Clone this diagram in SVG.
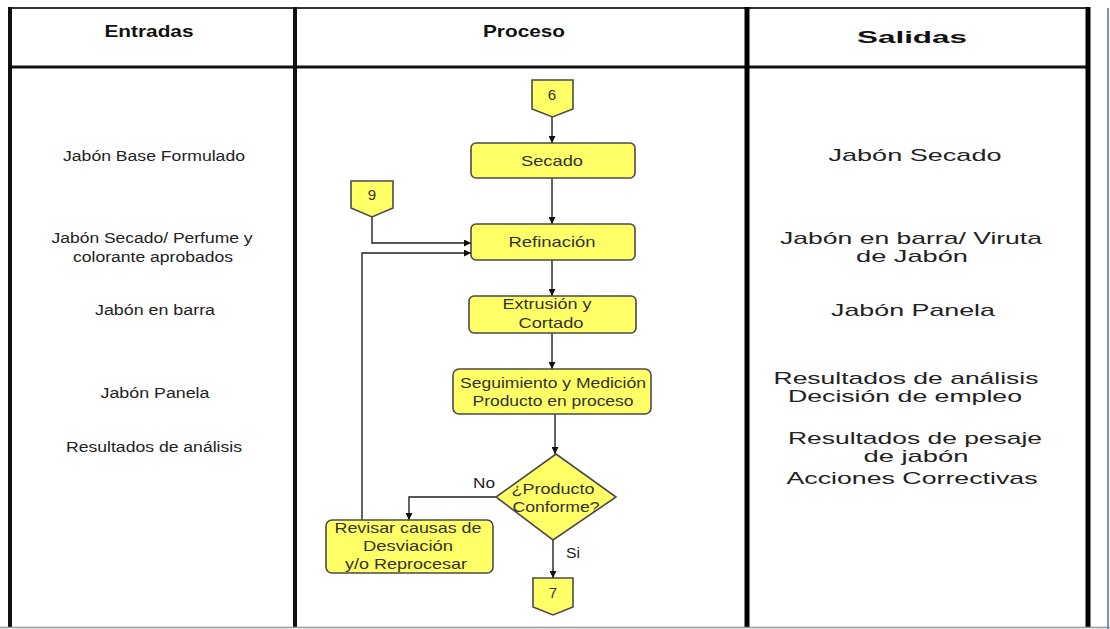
<svg xmlns="http://www.w3.org/2000/svg" width="1110" height="629" viewBox="0 0 1110 629">
<style>
text{font-family:"Liberation Sans",Arial,sans-serif;fill:#222;}
.hd{font-weight:bold;font-size:17px;text-anchor:middle;fill:#111;}
.lt{font-size:14px;text-anchor:middle;}
.rt{font-size:17px;text-anchor:middle;}
.ft{font-size:15px;text-anchor:middle;fill:#333;}
.box{fill:#ffff66;stroke:#4a4a4a;stroke-width:1.6;}
.ln{fill:none;stroke:#222;stroke-width:1.4;}
</style>
<defs>
<marker id="ah" viewBox="0 0 10 10" refX="10" refY="5" markerWidth="7" markerHeight="7" orient="auto" markerUnits="userSpaceOnUse">
<path d="M0,0 L10,5 L0,10 z" fill="#111"/>
</marker>
</defs>
<rect width="1110" height="629" fill="#fff"/>
<g id="table">
<line x1="8" y1="8" x2="1090" y2="8" stroke="#333" stroke-width="2"/>
<line x1="10" y1="67" x2="1090" y2="67" stroke="#111" stroke-width="3"/>
<line x1="10" y1="7" x2="10" y2="627" stroke="#111" stroke-width="4"/>
<line x1="295" y1="7" x2="295" y2="627" stroke="#111" stroke-width="4"/>
<line x1="747" y1="7" x2="747" y2="627" stroke="#000" stroke-width="5"/>
<line x1="1088" y1="7" x2="1088" y2="627" stroke="#000" stroke-width="5"/>
<line x1="0" y1="627.5" x2="1110" y2="627.5" stroke="#999" stroke-width="1.5"/>
<line x1="1108" y1="8" x2="1108" y2="629" stroke="#8090a8" stroke-width="2"/>
<text class="hd" x="149" y="37" textLength="89" lengthAdjust="spacingAndGlyphs">Entradas</text>
<text class="hd" x="524" y="37" textLength="82" lengthAdjust="spacingAndGlyphs">Proceso</text>
<text class="hd" x="912" y="43" font-size="21" textLength="110" lengthAdjust="spacingAndGlyphs">Salidas</text>
</g>
<g id="entradas">
<text class="lt" x="154" y="161" textLength="182" lengthAdjust="spacingAndGlyphs">Jabón Base Formulado</text>
<text class="lt" x="152" y="243" textLength="201" lengthAdjust="spacingAndGlyphs">Jabón Secado/ Perfume y</text>
<text class="lt" x="153" y="262" textLength="160" lengthAdjust="spacingAndGlyphs">colorante aprobados</text>
<text class="lt" x="155" y="315" textLength="120" lengthAdjust="spacingAndGlyphs">Jabón en barra</text>
<text class="lt" x="155" y="398" textLength="109" lengthAdjust="spacingAndGlyphs">Jabón Panela</text>
<text class="lt" x="154" y="452" textLength="176" lengthAdjust="spacingAndGlyphs">Resultados de análisis</text>
</g>
<g id="salidas">
<text class="rt" x="915" y="161" textLength="173" lengthAdjust="spacingAndGlyphs">Jabón Secado</text>
<text class="rt" x="911" y="244" textLength="262" lengthAdjust="spacingAndGlyphs">Jabón en barra/ Viruta</text>
<text class="rt" x="912" y="262" textLength="112" lengthAdjust="spacingAndGlyphs">de Jabón</text>
<text class="rt" x="913" y="316" textLength="164" lengthAdjust="spacingAndGlyphs">Jabón Panela</text>
<text class="rt" x="906" y="384" textLength="265" lengthAdjust="spacingAndGlyphs">Resultados de análisis</text>
<text class="rt" x="905" y="402" textLength="234" lengthAdjust="spacingAndGlyphs">Decisión de empleo</text>
<text class="rt" x="915" y="444" textLength="254" lengthAdjust="spacingAndGlyphs">Resultados de pesaje</text>
<text class="rt" x="916" y="462" textLength="105" lengthAdjust="spacingAndGlyphs">de jabón</text>
<text class="rt" x="912" y="484" textLength="251" lengthAdjust="spacingAndGlyphs">Acciones Correctivas</text>
</g>
<g id="connectors">
<path class="ln" d="M552,117 L552,143" marker-end="url(#ah)"/>
<path class="ln" d="M552,178 L552,224" marker-end="url(#ah)"/>
<path class="ln" d="M372,217 L372,243 L471,243" marker-end="url(#ah)"/>
<path class="ln" d="M362,520 L362,253 L471,253" marker-end="url(#ah)"/>
<path class="ln" d="M552,260 L552,296" marker-end="url(#ah)"/>
<path class="ln" d="M552,333 L552,369" marker-end="url(#ah)"/>
<path class="ln" d="M555,414 L555,454" marker-end="url(#ah)"/>
<path class="ln" d="M496,497 L409,497 L409,520" marker-end="url(#ah)"/>
<path class="ln" d="M553,540 L553,578" marker-end="url(#ah)"/>
<text x="484" y="488" font-size="15" text-anchor="middle" fill="#334" textLength="22" lengthAdjust="spacingAndGlyphs">No</text>
<text x="573" y="558" font-size="15" text-anchor="middle" fill="#334" textLength="14" lengthAdjust="spacingAndGlyphs">Si</text>
</g>
<g id="c6">
<path class="box" d="M532,80 L573,80 L573,109 L552.5,117 L532,109 Z"/>
<text class="ft" x="552" y="100">6</text>
</g>
<g id="c9">
<path class="box" d="M351,181 L393,181 L393,208 L372,217 L351,208 Z"/>
<text class="ft" x="372" y="200">9</text>
</g>
<g id="secado">
<rect class="box" x="471" y="143" width="164" height="35" rx="5"/>
<text class="ft" x="552" y="166" textLength="62" lengthAdjust="spacingAndGlyphs">Secado</text>
</g>
<g id="refinacion">
<rect class="box" x="471" y="224" width="164" height="36" rx="5"/>
<text class="ft" x="552" y="247" textLength="87" lengthAdjust="spacingAndGlyphs">Refinación</text>
</g>
<g id="extrusion">
<rect class="box" x="469" y="296" width="167" height="37" rx="5"/>
<text class="ft" x="547" y="309" textLength="89" lengthAdjust="spacingAndGlyphs">Extrusión y</text>
<text class="ft" x="551" y="328" textLength="65" lengthAdjust="spacingAndGlyphs">Cortado</text>
</g>
<g id="seguimiento">
<rect class="box" x="453" y="369" width="198" height="45" rx="6"/>
<text class="ft" x="553" y="388" textLength="186" lengthAdjust="spacingAndGlyphs">Seguimiento y Medición</text>
<text class="ft" x="553" y="406" textLength="161" lengthAdjust="spacingAndGlyphs">Producto en proceso</text>
</g>
<g id="decision">
<path class="box" d="M556,454 L616,497 L553,540 L496,497 Z"/>
<text class="ft" x="553" y="494" textLength="83" lengthAdjust="spacingAndGlyphs">¿Producto</text>
<text class="ft" x="556" y="512" textLength="87" lengthAdjust="spacingAndGlyphs">Conforme?</text>
</g>
<g id="revisar">
<rect class="box" x="326" y="520" width="167" height="53" rx="6"/>
<text class="ft" x="408" y="533" textLength="147" lengthAdjust="spacingAndGlyphs">Revisar causas de</text>
<text class="ft" x="408" y="551" textLength="90" lengthAdjust="spacingAndGlyphs">Desviación</text>
<text class="ft" x="406" y="569" textLength="122" lengthAdjust="spacingAndGlyphs">y/o Reprocesar</text>
</g>
<g id="c7">
<path class="box" d="M533,578 L573,578 L573,607 L553,615 L533,607 Z"/>
<text class="ft" x="553" y="598">7</text>
</g>
</svg>
